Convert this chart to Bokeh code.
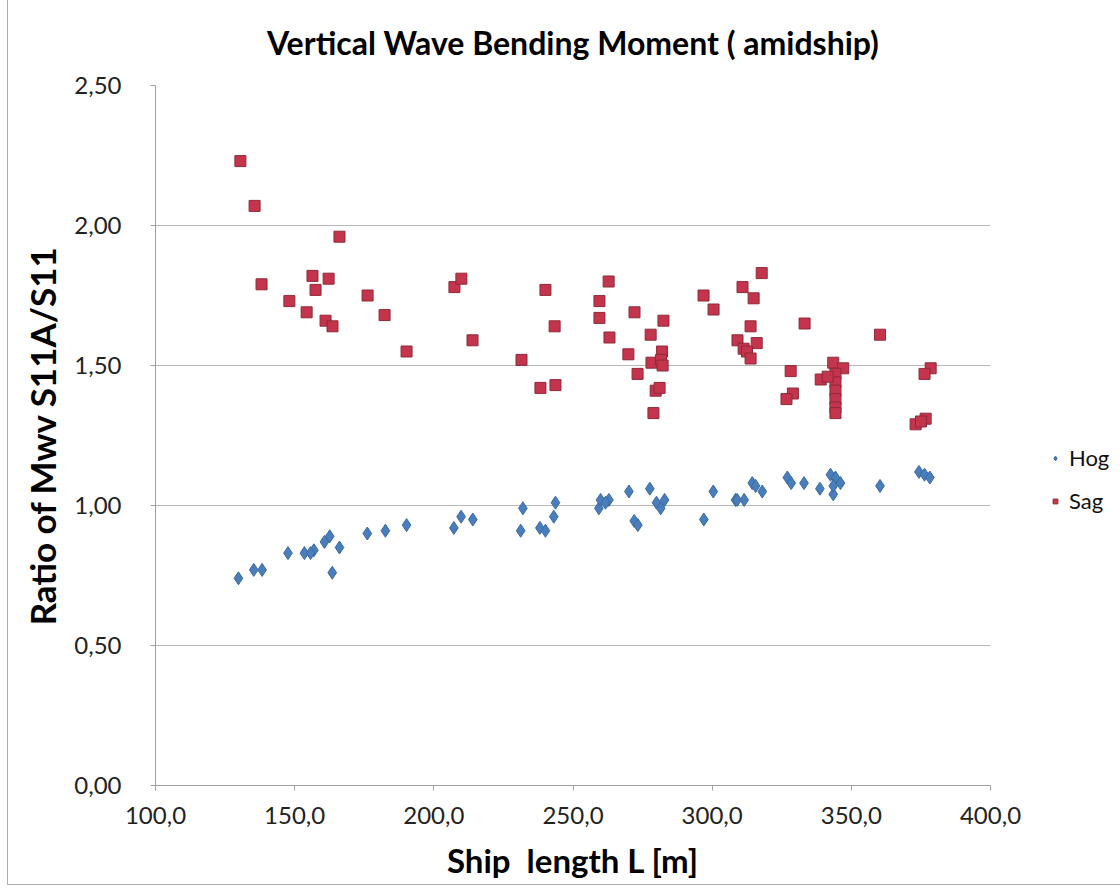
from bokeh.plotting import figure
from bokeh.models import FixedTicker, Legend, LegendItem, Range1d, ColumnDataSource
from bokeh.embed import file_html
from bokeh.resources import INLINE

# ---- data ----
hog_L = [129.8, 135.3, 138.3, 147.6, 153.5, 156.9, 155.7, 160.7, 162.6, 163.5, 166.1,
         176.1, 182.6, 190.2, 207.2, 209.8, 214.0, 231.2, 232.0, 238.1, 240.1, 243.1,
         243.7, 259.3, 259.9, 262.9, 261.7, 270.1, 272.0, 273.3, 277.6, 280.0, 281.5,
         282.9, 297.0, 300.4, 308.4, 309.0, 311.5, 314.4, 315.6, 318.0, 327.0, 328.4,
         333.0, 338.7, 342.5, 343.5, 344.3, 346.1, 343.5, 360.3, 374.3, 376.3, 378.2]
hog_v = [0.74, 0.77, 0.77, 0.83, 0.83, 0.84, 0.83, 0.87, 0.89, 0.76, 0.85,
         0.90, 0.91, 0.93, 0.92, 0.96, 0.95, 0.91, 0.99, 0.92, 0.91, 0.96,
         1.01, 0.99, 1.02, 1.02, 1.01, 1.05, 0.945, 0.93, 1.06, 1.01, 0.99,
         1.02, 0.95, 1.05, 1.02, 1.02, 1.02, 1.08, 1.07, 1.05, 1.10, 1.08,
         1.08, 1.06, 1.11, 1.04, 1.10, 1.08, 1.07, 1.07, 1.12, 1.11, 1.10]

sag_L = [130.5, 135.6, 138.1, 148.1, 154.3, 156.4, 157.5, 162.2, 161.1, 163.6, 166.1,
         176.2, 182.3, 190.2, 207.4, 209.9, 213.9, 231.5, 238.3, 240.1, 243.4, 243.7,
         259.5, 259.5, 262.8, 263.1, 272.1, 269.9, 273.2, 277.9, 278.2, 278.9, 279.7,
         281.1, 282.5, 282.0, 281.6, 282.2, 296.9, 300.5, 310.9, 314.9, 309.1, 311.3,
         313.8, 317.8, 316.0, 312.5, 313.8, 333.2, 328.2, 329.0, 326.7, 360.3, 339.0,
         343.5, 347.1, 344.3, 344.3, 344.3, 344.3, 344.3, 344.3, 341.5, 378.5, 376.3,
         373.1, 376.7, 375.0]
sag_v = [2.23, 2.07, 1.79, 1.73, 1.69, 1.82, 1.77, 1.81, 1.66, 1.64, 1.96,
         1.75, 1.68, 1.55, 1.78, 1.81, 1.59, 1.52, 1.42, 1.77, 1.64, 1.43,
         1.73, 1.67, 1.80, 1.60, 1.69, 1.54, 1.47, 1.61, 1.51, 1.33, 1.41,
         1.42, 1.66, 1.55, 1.52, 1.50, 1.75, 1.70, 1.78, 1.74, 1.59, 1.56,
         1.64, 1.83, 1.58, 1.55, 1.525, 1.65, 1.48, 1.40, 1.38, 1.61, 1.45,
         1.51, 1.49, 1.47, 1.44, 1.41, 1.38, 1.35, 1.33, 1.46, 1.49, 1.47,
         1.29, 1.31, 1.30]

x_ticks = [100, 150, 200, 250, 300, 350, 400]
x_tick_labels = ["100,0", "150,0", "200,0", "250,0", "300,0", "350,0", "400,0"]
y_ticks = [0.0, 0.5, 1.0, 1.5, 2.0, 2.5]
y_tick_labels = ["0,00", "0,50", "1,00", "1,50", "2,00", "2,50"]

FONT = "Lato"

p = figure(output_backend="svg", toolbar_location=None,
           frame_width=835, frame_height=700,
           min_border_left=147, min_border_right=122,
           min_border_top=77, min_border_bottom=99,
           x_range=Range1d(100, 400), y_range=Range1d(0, 2.5),
           title="Vertical Wave Bending Moment ( amidship)")
p.styles = {"border": "1px solid #b0b0b0", "margin": "-5px 0 0 7px"}

p.title.align = "center"
p.title.text_font = FONT
p.title.text_font_size = "32px"
p.title.text_font_style = "bold"
p.title.text_color = "#000000"
p.title.standoff = 48

p.outline_line_color = None
p.background_fill_color = "white"
p.border_fill_color = "white"

p.xgrid.grid_line_color = None
p.ygrid.grid_line_color = "#b8b8b8"
p.ygrid.grid_line_width = 1

for ax in (p.xaxis, p.yaxis):
    ax.axis_line_color = "#a0a0a0"
    ax.major_tick_line_color = "#a0a0a0"
    ax.major_tick_out = 5
    ax.major_tick_in = 0
    ax.minor_tick_line_color = None
    ax.major_label_text_font = FONT
    ax.major_label_text_font_size = "24px"
    ax.major_label_text_color = "#222222"
    ax.axis_label_text_font = FONT
    ax.axis_label_text_font_style = "bold"
    ax.axis_label_text_color = "#000000"

p.xaxis.axis_label_text_font_size = "33px"
p.yaxis.axis_label_text_font_size = "35px"

p.xaxis.ticker = FixedTicker(ticks=x_ticks)
p.xaxis.major_label_overrides = dict(zip(x_ticks, x_tick_labels))
p.yaxis.ticker = FixedTicker(ticks=y_ticks)
p.yaxis.major_label_overrides = dict(zip(y_ticks, y_tick_labels))

p.xaxis.axis_label = "Ship\u00a0 length L [m]"
p.yaxis.axis_label = "Ratio of Mwv S11A/S11"
p.yaxis.major_label_standoff = 29
p.xaxis.major_label_standoff = 16
p.yaxis.axis_label_standoff = 8
p.xaxis.axis_label_standoff = 13

hog_src = ColumnDataSource(dict(x=hog_L, y=hog_v))
sag_src = ColumnDataSource(dict(x=sag_L, y=sag_v))

r_hog = p.scatter("x", "y", source=hog_src, marker="diamond", size=13,
                  fill_color="#4a7ebb", line_color="#3a6aa5", line_width=1)
r_sag = p.scatter("x", "y", source=sag_src, marker="square", size=11,
                  fill_color="#c4344c", line_color="#8e2a38", line_width=1)

legend = Legend(items=[LegendItem(label="Hog", renderers=[r_hog]),
                       LegendItem(label="Sag", renderers=[r_sag])],
                location=(59, 271))
legend.border_line_color = None
legend.background_fill_alpha = 0
legend.padding = 0
legend.margin = 0
legend.glyph_width = 12
legend.glyph_height = 20
legend.spacing = 16
legend.label_standoff = 8
legend.label_text_font = FONT
legend.label_text_font_size = "22px"
legend.label_text_color = "#111111"
p.add_layout(legend, "right")

open("out.html", "w").write(file_html(p, INLINE))
